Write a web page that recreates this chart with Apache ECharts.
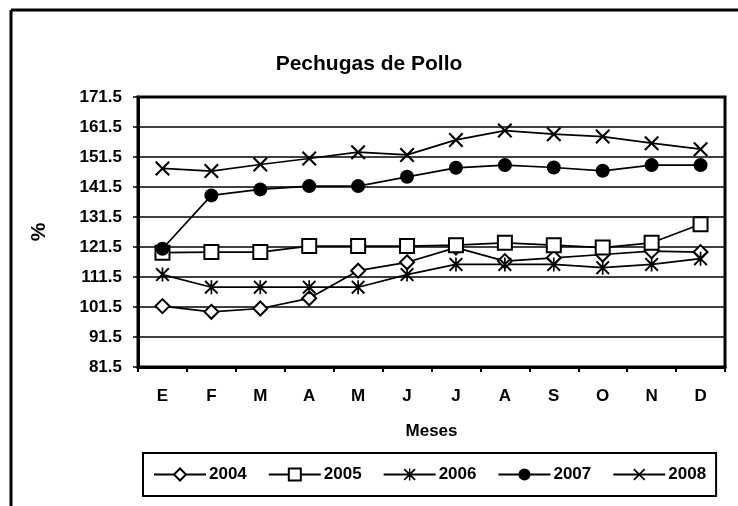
<!DOCTYPE html>
<html>
<head>
<meta charset="utf-8">
<script src="https://cdn.jsdelivr.net/npm/echarts@6/dist/echarts.min.js"></script>
<style>
  html, body { margin: 0; padding: 0; background: #fff; }
  #container { width: 738px; height: 506px; }
</style>
</head>
<body>
<div id="container"></div>
<script>
var dom = document.getElementById('container');
var myChart = echarts.init(dom, null, { renderer: 'canvas' });

// data
const months = ['E', 'F', 'M', 'A', 'M', 'J', 'J', 'A', 'S', 'O', 'N', 'D'];
const years = ['2004', '2005', '2006', '2007', '2008'];
const v2004 = [101.8, 99.9, 101.0, 104.4, 113.6, 116.4, 121.3, 116.8, 117.9, 119.0, 120.1, 119.8];
const v2005 = [119.6, 119.8, 119.8, 121.8, 121.8, 121.8, 122.1, 122.9, 122.1, 121.3, 122.9, 129.1];
const v2006 = [112.3, 108.1, 108.1, 108.1, 108.1, 112.3, 115.7, 115.7, 115.7, 114.6, 115.7, 117.6];
const v2007 = [120.9, 138.7, 140.7, 141.8, 141.8, 144.9, 147.9, 148.8, 148.0, 146.9, 148.8, 148.8];
const v2008 = [147.7, 146.8, 149.0, 151.0, 153.1, 152.2, 157.2, 160.3, 159.1, 158.3, 156.1, 154.1];
const yTicks = [81.5, 91.5, 101.5, 111.5, 121.5, 131.5, 141.5, 151.5, 161.5, 171.5];

const FONT = 'Liberation Sans, Arial, sans-serif';

// marker shapes
const xPath = 'path://M0,2L2,0L10,8L18,0L20,2L12,10L20,18L18,20L10,12L2,20L0,18L8,10Z';
const starPath = 'path://M0,2L2,0L10,8L18,0L20,2L12,10L20,18L18,20L10,12L2,20L0,18L8,10Z' +
  'M8.8,0L11.2,0L11.2,20L8.8,20Z';

function makeSeries(name, values, symbol, size, filled) {
  return {
    name: name,
    type: 'line',
    data: values,
    symbol: symbol,
    symbolSize: size,
    showAllSymbol: true,
    animation: false,
    lineStyle: { color: '#000', width: 1.7 },
    itemStyle: filled
      ? { color: '#000', borderWidth: 0 }
      : { color: '#000', borderColor: '#000', borderWidth: 1.8 },
    emphasis: { disabled: true }
  };
}

const series = [
  makeSeries(years[0], v2004, 'emptyDiamond', 14, false),
  makeSeries(years[1], v2005, 'emptyRect', 14, false),
  makeSeries(years[2], v2006, starPath, 14, true),
  makeSeries(years[3], v2007, 'circle', 14, true),
  makeSeries(years[4], v2008, xPath, 15, true)
];

var option = {
  backgroundColor: '#fff',
  animation: false,
  title: {
    text: 'Pechugas de Pollo',
    left: 'center',
    top: 49,
    textStyle: { fontFamily: FONT, fontWeight: 'bold', fontSize: 21, color: '#000' }
  },
  legend: {
    data: years,
    left: 143,
    top: 453,
    width: 580,
    itemWidth: 52,
    itemHeight: 15,
    itemGap: 21,
    padding: [13, 10, 13, 10],
    borderColor: '#000',
    borderWidth: 2,
    textStyle: { fontFamily: FONT, fontWeight: 'bold', fontSize: 17, color: '#000', padding: [0, 0, 0, -2] }
  },
  grid: {
    left: 138,
    top: 97,
    right: 13,
    bottom: 139,
    show: true,
    borderColor: '#000',
    borderWidth: 3,
    backgroundColor: '#fff'
  },
  xAxis: {
    type: 'category',
    data: months,
    boundaryGap: true,
    name: 'Meses',
    nameLocation: 'middle',
    nameGap: 56,
    nameTextStyle: { fontFamily: FONT, fontWeight: 'bold', fontSize: 17, color: '#000', verticalAlign: 'top' },
    axisLine: { lineStyle: { color: '#000', width: 3 } },
    axisTick: { show: true, length: 5, lineStyle: { color: '#000', width: 2 } },
    axisLabel: { margin: 21, fontFamily: FONT, fontWeight: 'bold', fontSize: 17, color: '#000' },
    splitLine: { show: false }
  },
  yAxis: {
    type: 'value',
    min: yTicks[0],
    max: yTicks[yTicks.length - 1],
    interval: 10,
    name: '%',
    nameLocation: 'middle',
    nameGap: 88,
    nameRotate: 90,
    nameTextStyle: { fontFamily: FONT, fontWeight: 'bold', fontSize: 21, color: '#000' },
    axisLine: { show: true, lineStyle: { color: '#000', width: 3 } },
    axisTick: { show: true, length: 5, lineStyle: { color: '#000', width: 1.5 } },
    axisLabel: {
      margin: 16,
      fontFamily: FONT, fontWeight: 'bold', fontSize: 17, color: '#000',
      formatter: function (v) { return v.toFixed(1); }
    },
    splitLine: { show: true, lineStyle: { color: '#000', width: 1.5 } }
  },
  graphic: [
    // outer frame (top and left edge of the original chart box)
    { type: 'line', shape: { x1: 11, y1: 10, x2: 738, y2: 10 }, style: { stroke: '#000', lineWidth: 3 } },
    { type: 'line', shape: { x1: 11, y1: 10, x2: 11, y2: 506 }, style: { stroke: '#000', lineWidth: 3 } }
  ],
  series: series
};

myChart.setOption(option);
window.addEventListener('resize', myChart.resize);
</script>
</body>
</html>
